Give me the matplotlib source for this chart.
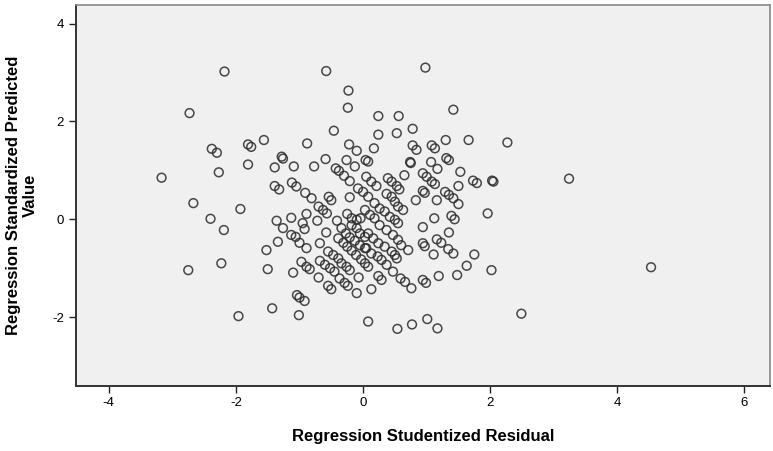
import matplotlib.pyplot as plt

# studentized residual (x) and standardized predicted value (y)
resid = [
    -2.18, -2.73, -2.38, -2.30, -1.81, -1.76, -1.81, -2.27, -3.17, -2.67, -1.93, -2.40, -2.19, -2.23, -2.75, -1.96,
    -0.58, 0.98, -0.23, -0.24, 1.42, 0.24, 0.56, -0.46, 0.78, 0.24, 0.53, -1.56, -0.88, -0.22, -0.10, 0.17,
    0.78, 0.84, 1.08, 1.13, 1.30, 1.66, 2.27, -1.28, -1.26, -0.59, -0.26, 0.08, 0.04, 0.75, 0.74, 1.07,
    1.31, 1.35, 1.17, 1.53, 2.05, 2.03, -1.39, -1.09, -0.77, -0.43, -0.38, -0.13, -0.30, 0.05, 0.13, 0.21,
    -0.21, 0.65, 0.39, 0.45, 0.53, 0.57, 0.94, 1.00, 1.08, 1.13, 1.50, 1.73, 1.79, -1.39, -1.32, -1.12,
    -1.05, -0.91, -0.81, -0.54, -0.50, -0.21, -0.08, 0.00, 0.08, 0.37, 0.45, 0.83, 0.94, 0.97, 1.29, 1.35,
    1.42, 1.50, 1.16,
    -0.70, -0.63, -0.57, -0.89, -1.13, -1.36, -0.25, -0.18, -0.10, -0.04, 0.03, -0.41, -0.72, -0.95,
    0.50, 0.55, 0.63, 0.18, 0.26, 0.34, 0.11, 0.18, 0.42, 0.50, 0.55, 1.12, 1.39, 1.44, 1.96,
    -1.26, -0.92, -0.58, -0.34, -0.27, -0.21, -0.13, -0.05, 0.03, -0.39, -0.31, -0.25, -0.18, -0.11, -0.03,
    -0.18, -0.10, -0.05, 0.03, -1.13, -1.06, -1.34, -1.00, -0.89, -0.68, -1.52, -0.55, -0.47, -0.39,
    -0.97, -0.89, -0.84, -0.68, -0.60, -0.52, -0.45, -0.34, -0.26, -0.21, -1.50, -1.10, -0.70, -0.37,
    -0.29, -0.24, -0.07, -0.55, -0.50, -0.10, -1.04, -1.00, -0.92, -1.43, -1.01, 0.08,
    0.94, 1.35, 1.16, 1.23, 1.34, 1.42, 0.94, 0.97, 1.11, 1.75, 1.63, 1.48, 2.02, 1.19, 0.94, 0.99,
    0.76, 0.66, 0.59, 0.47, 0.37, 0.24, 0.29, 0.13, 0.54, 0.77, 1.01, 1.17, 0.26, 0.37, 0.47, 0.55,
    0.60, 0.71, 0.08, 0.16, 0.24, 0.05, 0.13, 0.23, 0.29, 0.34, 0.45, 0.50, 0.53, 0.03, 0.08,
    2.49, 3.24, 4.53,
]
predicted = [
    3.02, 2.17, 1.44, 1.36, 1.53, 1.48, 1.12, 0.96, 0.85, 0.33, 0.21, 0.01, -0.22, -0.90, -1.04, -1.98,
    3.03, 3.10, 2.63, 2.28, 2.24, 2.11, 2.11, 1.81, 1.85, 1.73, 1.76, 1.62, 1.55, 1.53, 1.40, 1.45,
    1.51, 1.42, 1.51, 1.45, 1.62, 1.62, 1.57, 1.28, 1.24, 1.23, 1.21, 1.18, 1.21, 1.15, 1.17, 1.17,
    1.25, 1.21, 1.03, 0.97, 0.77, 0.79, 1.06, 1.08, 1.08, 1.04, 0.99, 1.08, 0.89, 0.87, 0.77, 0.68,
    0.78, 0.90, 0.84, 0.77, 0.68, 0.61, 0.94, 0.87, 0.77, 0.72, 0.68, 0.79, 0.74, 0.68, 0.61, 0.75,
    0.67, 0.54, 0.43, 0.46, 0.39, 0.45, 0.63, 0.56, 0.46, 0.52, 0.46, 0.39, 0.58, 0.54, 0.56, 0.50,
    0.43, 0.31, 0.39,
    0.26, 0.19, 0.12, 0.11, 0.03, -0.03, 0.11, 0.02, -0.01, 0.02, 0.19, -0.03, -0.03, -0.08,
    0.36, 0.26, 0.19, 0.33, 0.22, 0.16, 0.09, 0.02, 0.05, -0.01, -0.08, 0.02, 0.07, 0.00, 0.12,
    -0.18, -0.20, -0.27, -0.18, -0.29, -0.37, -0.44, -0.53, -0.59, -0.39, -0.48, -0.56, -0.64, -0.73, -0.82,
    -0.12, -0.18, -0.29, -0.36, -0.32, -0.36, -0.46, -0.48, -0.59, -0.49, -0.63, -0.66, -0.73, -0.80,
    -0.87, -0.97, -1.02, -0.85, -0.93, -1.00, -1.07, -0.90, -0.97, -1.04, -1.02, -1.09, -1.19, -1.21,
    -1.30, -1.36, -1.19, -1.36, -1.43, -1.51, -1.55, -1.60, -1.67, -1.82, -1.96, -2.09,
    -0.16, -0.27, -0.41, -0.48, -0.61, -0.70, -0.49, -0.55, -0.72, -0.72, -0.95, -1.14, -1.04, -1.16, -1.24, -1.30,
    -1.41, -1.28, -1.21, -1.07, -0.93, -1.16, -1.24, -1.43, -2.24, -2.15, -2.04, -2.23, -0.12, -0.22, -0.32, -0.42,
    -0.53, -0.63, -0.29, -0.39, -0.49, -0.59, -0.70, -0.76, -0.83, -0.56, -0.66, -0.73, -0.80, -0.90, -0.97,
    -1.93, 0.83, -0.98,
]

x_ticks = [-4, -2, 0, 2, 4, 6]
y_ticks = [-2, 0, 2, 4]

plt.rcParams["font.family"] = ["Liberation Sans", "DejaVu Sans"]
plt.rcParams["axes.unicode_minus"] = False

fig = plt.figure(figsize=(7.73, 4.51), dpi=100)
ax = fig.add_axes([0.098, 0.145, 0.898, 0.845])
ax.set_facecolor("#f0f0f0")

ax.scatter(resid, predicted, s=40, facecolors="none", edgecolors="#2a2a2a",
           linewidths=1.1, alpha=0.85)

ax.set_xlim(-4.52, 6.40)
ax.set_ylim(-3.40, 4.39)
ax.set_xticks(x_ticks)
ax.set_yticks(y_ticks)
ax.tick_params(direction="out", length=5, width=1, colors="#222222", labelsize=9.5)
ax.tick_params(labelcolor="black")

for side in ["left", "bottom"]:
    ax.spines[side].set_color("#333333")
    ax.spines[side].set_linewidth(1.4)
for side in ["top", "right"]:
    ax.spines[side].set_color("#888888")
    ax.spines[side].set_linewidth(1.2)

ax.set_xlabel("Regression Studentized Residual", fontsize=12, fontweight="bold", labelpad=14)
ax.set_ylabel("Regression Standardized Predicted\nValue", fontsize=12, fontweight="bold",
              labelpad=10, linespacing=1.15)

fig.savefig("out.png", dpi=100)
